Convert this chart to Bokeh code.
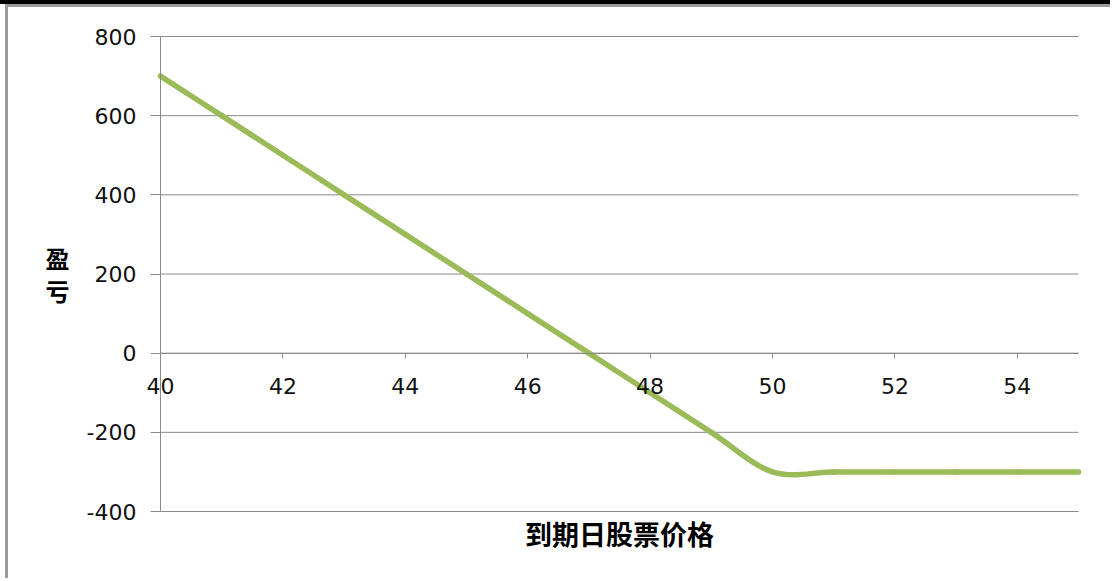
import numpy as np
from bokeh.plotting import figure
from bokeh.models import Range1d, FixedTicker, Label
from bokeh.layouts import column
from bokeh.embed import file_html
from bokeh.resources import INLINE

# ---- data ----
stock_price = [40, 41, 42, 43, 44, 45, 46, 47, 48, 49, 50, 51, 52, 53, 54, 55]
profit_loss = [700, 600, 500, 400, 300, 200, 100, 0, -100, -200, -300, -300, -300, -300, -300, -300]
x_ticks = [40, 42, 44, 46, 48, 50, 52, 54]
x_tick_labels = ["40", "42", "44", "46", "48", "50", "52", "54"]
y_ticks = [-400, -200, 0, 200, 400, 600, 800]
y_tick_labels = ["-400", "-200", "0", "200", "400", "600", "800"]
x_axis_crosses_at = 0
x_title = "到期日股票价格"
y_title = "盈\n亏"

GRID = "#8a8a8a"
LINE = "#9BBB59"
FONT = "DejaVu Sans"
CJK = "Noto Sans CJK SC"

# ---- layout (canvas pixels) ----
W, H = 1105, 574
X0_PX, X1_PX = 152, 1070   # where the x axis starts / ends
YT_PX, YB_PX = 29, 504     # where the y axis top / bottom are

x_min, x_max = stock_price[0], stock_price[-1]
y_min, y_max = y_ticks[0], y_ticks[-1]
xs = (x_max - x_min) / (X1_PX - X0_PX)
ys = (y_max - y_min) / (YB_PX - YT_PX)
x_range = Range1d(x_min - X0_PX * xs, x_max + (W - X1_PX) * xs)
y_range = Range1d(y_min - (H - YB_PX) * ys, y_max + YT_PX * ys)

# smoothed line (Excel style): cubic Bezier segments, Catmull-Rom control points
x = np.array(stock_price, dtype=float)
y = np.array(profit_loss, dtype=float)
xp = np.concatenate([[x[0]], x, [x[-1]]])
yp = np.concatenate([[y[0]], y, [y[-1]]])
n = len(x) - 1
bx0, by0 = x[:-1], y[:-1]
bx1, by1 = x[1:], y[1:]
cx0 = bx0 + (xp[2:n + 2] - xp[0:n]) / 6.0
cy0 = by0 + (yp[2:n + 2] - yp[0:n]) / 6.0
cx1 = bx1 - (xp[3:n + 3] - xp[1:n + 1]) / 6.0
cy1 = by1 - (yp[3:n + 3] - yp[1:n + 1]) / 6.0

p = figure(
    width=W, height=H, min_border=0,
    x_range=x_range, y_range=y_range,
    output_backend="svg", toolbar_location=None,
    background_fill_color="white", border_fill_color="white",
)
p.outline_line_color = None
p.xgrid.visible = False
p.ygrid.visible = False

# horizontal gridlines across the plot area only
p.segment(x0=[x_min] * len(y_ticks), x1=[x_max] * len(y_ticks), y0=y_ticks, y1=y_ticks,
          line_color=GRID, line_width=1)

p.bezier(x0=bx0, y0=by0, x1=bx1, y1=by1, cx0=cx0, cy0=cy0, cx1=cx1, cy1=cy1,
         line_color=LINE, line_width=5.5, line_cap="round")

# y axis at x = 40
ya = p.yaxis[0]
ya.fixed_location = x_min
ya.bounds = (y_min, y_max)
ya.ticker = FixedTicker(ticks=y_ticks)
ya.major_label_overrides = {t: s for t, s in zip(y_ticks, y_tick_labels)}
ya.axis_line_color = GRID
ya.major_tick_line_color = GRID
ya.major_tick_out = 10
ya.major_tick_in = 0
ya.minor_tick_line_color = None
ya.major_label_standoff = 14
ya.major_label_text_font = FONT
ya.major_label_text_font_size = "22px"
ya.major_label_text_color = "#111111"
ya.axis_label = y_title
ya.axis_label_orientation = "horizontal"
ya.axis_label_text_font = CJK
ya.axis_label_text_font_size = "24px"
ya.axis_label_text_font_style = "bold"
ya.axis_label_text_color = "#000000"
ya.axis_label_text_line_height = 0.95
ya.axis_label_standoff = 14

# x axis crossing at y = 0
xa = p.xaxis[0]
xa.fixed_location = x_axis_crosses_at
xa.bounds = (x_min, x_max)
xa.ticker = FixedTicker(ticks=x_ticks)
xa.major_label_overrides = {t: s for t, s in zip(x_ticks, x_tick_labels)}
xa.axis_line_color = GRID
xa.major_tick_line_color = GRID
xa.major_tick_out = 5
xa.major_tick_in = 0
xa.minor_tick_line_color = None
xa.major_label_standoff = 20
xa.major_label_text_font = FONT
xa.major_label_text_font_size = "22px"
xa.major_label_text_color = "#111111"

# x axis title under the plot area
p.add_layout(Label(x=(x_min + x_max) / 2, y=y_min, y_offset=-2, text=x_title,
                   text_align="center", text_baseline="top",
                   text_font=CJK, text_font_size="27px", text_font_style="bold",
                   text_color="#000000"))

p.styles = {"border-top": "3px solid #9a9a9a", "border-left": "3px solid #9a9a9a", "margin-left": "5px"}
layout = column(p, styles={"border-top": "4px solid #000000"})

open("out.html", "w").write(file_html(layout, INLINE))
